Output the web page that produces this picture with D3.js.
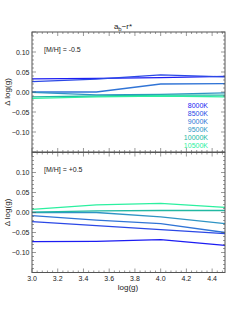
<!DOCTYPE html>
<html>
<head>
<meta charset="utf-8">
<script src="https://cdn.jsdelivr.net/npm/d3@7"></script>
<style>
  body { margin: 0; background: #fff; }
  text { font-family: "Liberation Sans", Arial, sans-serif; }
</style>
</head>
<body>
<div id="plot"></div>
<script>
// data
let logg = [3.0, 3.5, 4.0, 4.5];
let temps = ["8000K", "8500K", "9000K", "9500K", "10000K", "10500K"];
let panelLabels = ["[M/H] = -0.5", "[M/H] = +0.5"];
let xTicks = [3.0, 3.2, 3.4, 3.6, 3.8, 4.0, 4.2, 4.4];
let yTicks = [-0.10, -0.05, 0.00, 0.05, 0.10];

// top panel, [M/H] = -0.5
let metalPoor = [
  [0.033, 0.034, 0.036, 0.039],
  [0.026, 0.032, 0.043, 0.038],
  [0.000, 0.000, 0.020, 0.021],
  [-0.001, -0.007, -0.006, -0.002],
  [-0.012, -0.010, -0.008, -0.008],
  [-0.016, -0.012, -0.010, -0.012]
];
// bottom panel, [M/H] = +0.5
let metalRich = [
  [-0.073, -0.072, -0.068, -0.082],
  [-0.023, -0.033, -0.043, -0.053],
  [-0.008, -0.019, -0.028, -0.050],
  [0.000, 0.000, -0.011, -0.028],
  [0.001, 0.004, 0.005, 0.005],
  [0.008, 0.019, 0.023, 0.013]
];

let colors = ["#1c1cf2", "#2b48e6", "#3074d6", "#2f94c4", "#22b8a2", "#2cf0a0"];

let svgWidth = 250, svgHeight = 312;
let left = 32, right = 225;
let panels = [
  { top: 32, data: metalPoor, label: panelLabels[0] },
  { top: 152.5, data: metalRich, label: panelLabels[1] }
];
let panelH = 120;

let svg = d3.select('#plot').append('svg')
  .attr('width', svgWidth)
  .attr('height', svgHeight);

let x = d3.scaleLinear().domain([3.0, 4.5]).range([left, right]);
let xMinor = d3.range(3.0, 4.5001, 0.04);

// title
let title = svg.append('text')
  .attr('x', 123).attr('y', 29)
  .attr('text-anchor', 'middle')
  .attr('font-size', 8).attr('fill', '#222');
title.append('tspan').text('a');
title.append('tspan').attr('font-size', 6).attr('dy', 2).text('b');
title.append('tspan').attr('dy', -2).text('\u2212r*');

panels.forEach(function(p, pi) {
  let y = d3.scaleLinear().domain([-0.15, 0.15]).range([p.top + panelH, p.top]);
  let g = svg.append('g');
  let yMinor = d3.range(-0.15, 0.1501, 0.01);

  // lines
  let line = d3.line().x((d, i) => x(logg[i])).y(d => y(d));
  p.data.forEach(function(s, si) {
    g.append('path')
      .datum(s)
      .attr('d', line)
      .attr('fill', 'none')
      .attr('stroke', colors[si])
      .attr('stroke-width', 1.3);
  });

  // ticks, inward on all sides
  let tk = g.append('g').attr('stroke', '#555').attr('stroke-width', 0.6);
  xMinor.forEach(function(v) {
    let major = Math.abs(Math.round(v * 5) - v * 5) < 1e-6;
    let len = major ? 4 : 2;
    tk.append('line').attr('x1', x(v)).attr('x2', x(v))
      .attr('y1', p.top + panelH).attr('y2', p.top + panelH - len);
    tk.append('line').attr('x1', x(v)).attr('x2', x(v))
      .attr('y1', p.top).attr('y2', p.top + len);
  });
  yMinor.forEach(function(v) {
    let major = Math.abs(Math.round(v * 20) - v * 20) < 1e-6;
    let len = major ? 4 : 2;
    tk.append('line').attr('x1', left).attr('x2', left + len)
      .attr('y1', y(v)).attr('y2', y(v));
    tk.append('line').attr('x1', right).attr('x2', right - len)
      .attr('y1', y(v)).attr('y2', y(v));
  });

  // frame
  g.append('rect')
    .attr('x', left).attr('y', p.top)
    .attr('width', right - left).attr('height', panelH)
    .attr('fill', 'none').attr('stroke', '#555').attr('stroke-width', 1);

  // y tick labels
  g.selectAll('.ylab').data(yTicks).enter().append('text')
    .attr('x', left - 2.5).attr('y', d => y(d) + 2.5)
    .attr('text-anchor', 'end').attr('font-size', 7).attr('fill', '#222')
    .text(d => d3.format('.2f')(d).replace('-', '\u2212'));

  // y axis title
  g.append('text')
    .attr('transform', `translate(10,${p.top + panelH / 2}) rotate(-90)`)
    .attr('text-anchor', 'middle').attr('font-size', 8).attr('fill', '#222')
    .text('\u0394 log(g)');

  // panel label
  g.append('text')
    .attr('x', 44).attr('y', p.top + 19.5)
    .attr('font-size', 7).attr('fill', '#222')
    .text(p.label);
});

// legend in top panel
svg.selectAll('.leg').data(temps).enter().append('text')
  .attr('x', 208).attr('y', (d, i) => 107.5 + i * 8)
  .attr('text-anchor', 'end').attr('font-size', 7)
  .attr('fill', (d, i) => colors[i])
  .text(d => d);

// x tick labels and title
svg.selectAll('.xlab').data(xTicks).enter().append('text')
  .attr('x', d => x(d)).attr('y', 280.5)
  .attr('text-anchor', 'middle').attr('font-size', 7).attr('fill', '#222')
  .text(d => d.toFixed(1));

svg.append('text')
  .attr('x', 128).attr('y', 290)
  .attr('text-anchor', 'middle').attr('font-size', 8).attr('fill', '#222')
  .text('log(g)');
</script>
</body>
</html>
